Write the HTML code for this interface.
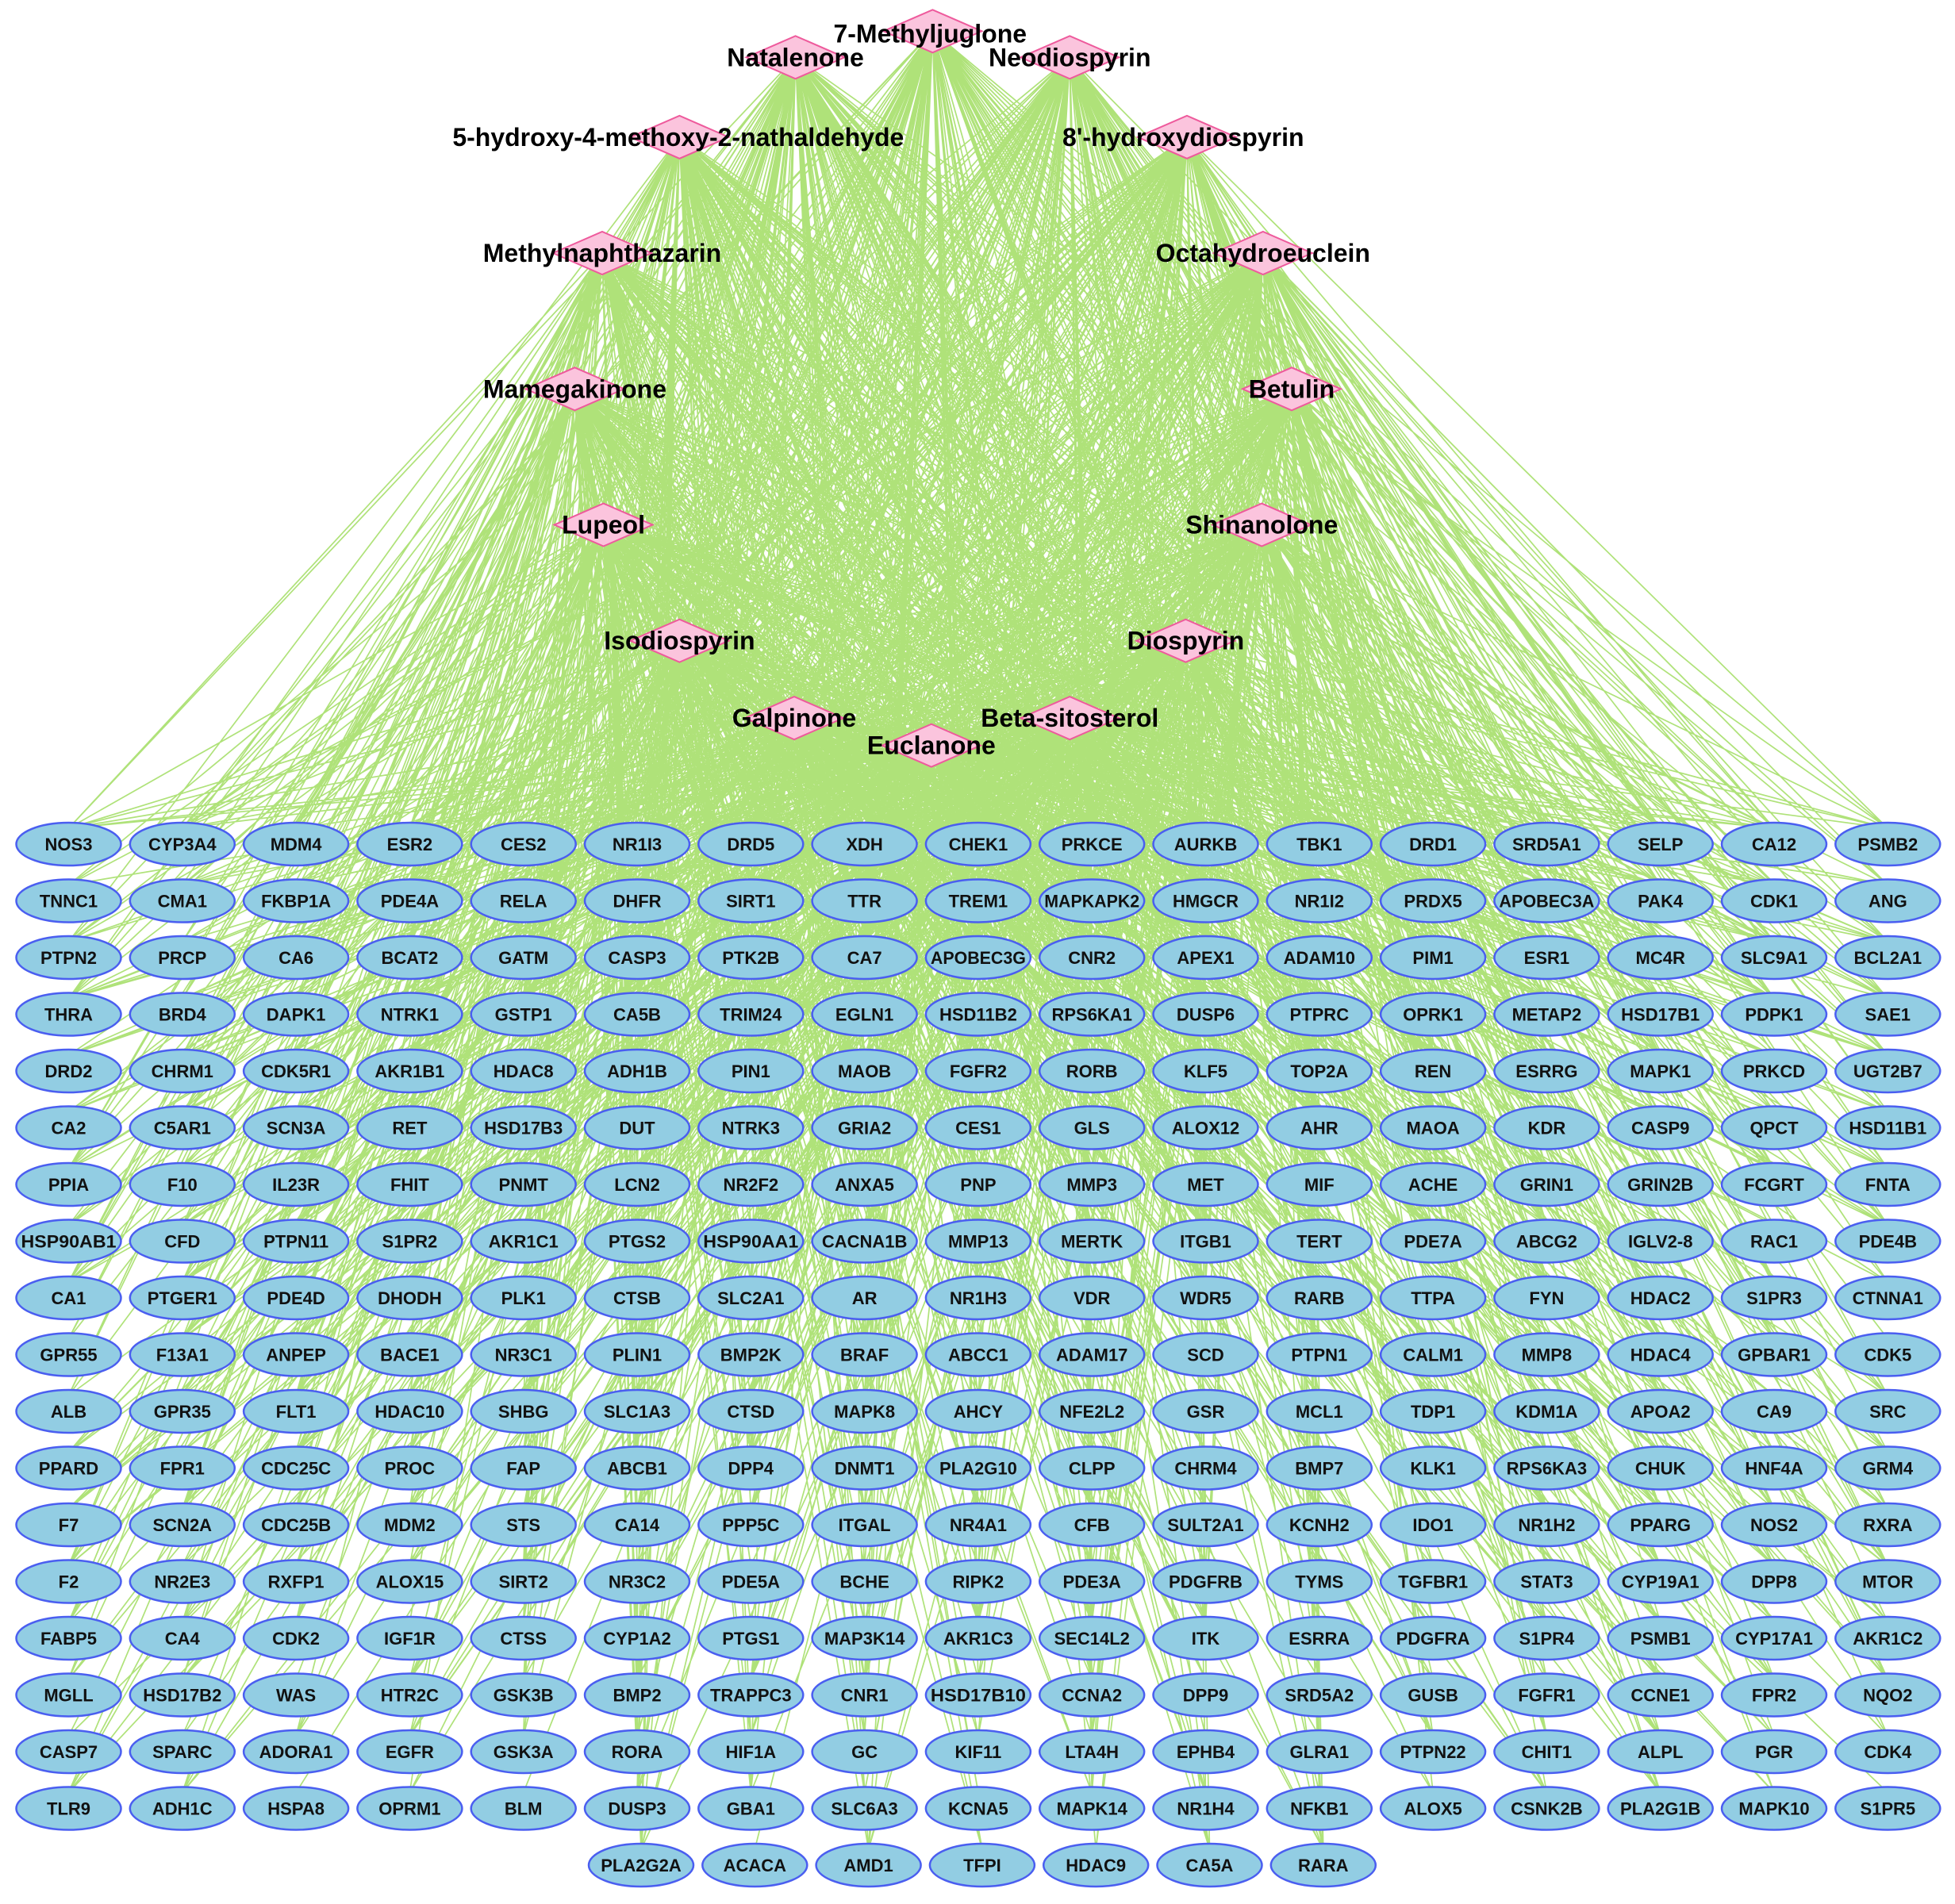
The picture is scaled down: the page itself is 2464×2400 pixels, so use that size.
<!DOCTYPE html>
<html><head><meta charset="utf-8"><style>
html,body{margin:0;padding:0;background:#fff}
svg{display:block}
</style></head><body>
<svg id="s" width="2464" height="2400" xmlns="http://www.w3.org/2000/svg">
<g id="edges" stroke="#9bdb58" stroke-width="1.7" stroke-opacity="0.8" fill="none"></g>
<g id="targets"></g>
<g id="comps"></g>
</svg>
<script>
var S=1.5714;
var comps=[
["7-Methyljuglone",748,25,746,27],["Natalenone",638,46,638,46],["Neodiospyrin",858,46,858,46],
["5-hydroxy-4-methoxy-2-nathaldehyde",545,110,544,110],["8'-hydroxydiospyrin",952,110,949,110],
["Methylnaphthazarin",483,203,483,203],["Octahydroeuclein",1013,203,1013,203],
["Mamegakinone",461,312,461,312],["Betulin",1036,312,1036,312],
["Lupeol",484,421,484,421],["Shinanolone",1012,421,1012,421],
["Isodiospyrin",545,514,545,514],["Diospyrin",951,514,951,514],
["Galpinone",637,576,637,576],["Beta-sitosterol",858,576,858,576],["Euclanone",747,598,747,598]];
var rows=[
"NOS3 CYP3A4 MDM4 ESR2 CES2 NR1I3 DRD5 XDH CHEK1 PRKCE AURKB TBK1 DRD1 SRD5A1 SELP CA12 PSMB2",
"TNNC1 CMA1 FKBP1A PDE4A RELA DHFR SIRT1 TTR TREM1 MAPKAPK2 HMGCR NR1I2 PRDX5 APOBEC3A PAK4 CDK1 ANG",
"PTPN2 PRCP CA6 BCAT2 GATM CASP3 PTK2B CA7 APOBEC3G CNR2 APEX1 ADAM10 PIM1 ESR1 MC4R SLC9A1 BCL2A1",
"THRA BRD4 DAPK1 NTRK1 GSTP1 CA5B TRIM24 EGLN1 HSD11B2 RPS6KA1 DUSP6 PTPRC OPRK1 METAP2 HSD17B1 PDPK1 SAE1",
"DRD2 CHRM1 CDK5R1 AKR1B1 HDAC8 ADH1B PIN1 MAOB FGFR2 RORB KLF5 TOP2A REN ESRRG MAPK1 PRKCD UGT2B7",
"CA2 C5AR1 SCN3A RET HSD17B3 DUT NTRK3 GRIA2 CES1 GLS ALOX12 AHR MAOA KDR CASP9 QPCT HSD11B1",
"PPIA F10 IL23R FHIT PNMT LCN2 NR2F2 ANXA5 PNP MMP3 MET MIF ACHE GRIN1 GRIN2B FCGRT FNTA",
"HSP90AB1 CFD PTPN11 S1PR2 AKR1C1 PTGS2 HSP90AA1 CACNA1B MMP13 MERTK ITGB1 TERT PDE7A ABCG2 IGLV2-8 RAC1 PDE4B",
"CA1 PTGER1 PDE4D DHODH PLK1 CTSB SLC2A1 AR NR1H3 VDR WDR5 RARB TTPA FYN HDAC2 S1PR3 CTNNA1",
"GPR55 F13A1 ANPEP BACE1 NR3C1 PLIN1 BMP2K BRAF ABCC1 ADAM17 SCD PTPN1 CALM1 MMP8 HDAC4 GPBAR1 CDK5",
"ALB GPR35 FLT1 HDAC10 SHBG SLC1A3 CTSD MAPK8 AHCY NFE2L2 GSR MCL1 TDP1 KDM1A APOA2 CA9 SRC",
"PPARD FPR1 CDC25C PROC FAP ABCB1 DPP4 DNMT1 PLA2G10 CLPP CHRM4 BMP7 KLK1 RPS6KA3 CHUK HNF4A GRM4",
"F7 SCN2A CDC25B MDM2 STS CA14 PPP5C ITGAL NR4A1 CFB SULT2A1 KCNH2 IDO1 NR1H2 PPARG NOS2 RXRA",
"F2 NR2E3 RXFP1 ALOX15 SIRT2 NR3C2 PDE5A BCHE RIPK2 PDE3A PDGFRB TYMS TGFBR1 STAT3 CYP19A1 DPP8 MTOR",
"FABP5 CA4 CDK2 IGF1R CTSS CYP1A2 PTGS1 MAP3K14 AKR1C3 SEC14L2 ITK ESRRA PDGFRA S1PR4 PSMB1 CYP17A1 AKR1C2",
"MGLL HSD17B2 WAS HTR2C GSK3B BMP2 TRAPPC3 CNR1 HSD17B10 CCNA2 DPP9 SRD5A2 GUSB FGFR1 CCNE1 FPR2 NQO2",
"CASP7 SPARC ADORA1 EGFR GSK3A RORA HIF1A GC KIF11 LTA4H EPHB4 GLRA1 PTPN22 CHIT1 ALPL PGR CDK4",
"TLR9 ADH1C HSPA8 OPRM1 BLM DUSP3 GBA1 SLC6A3 KCNA5 MAPK14 NR1H4 NFKB1 ALOX5 CSNK2B PLA2G1B MAPK10 S1PR5"];
var last="PLA2G2A ACACA AMD1 TFPI HDAC9 CA5A RARA".split(" ");
var NS="http://www.w3.org/2000/svg";
function el(t,a,p){var e=document.createElementNS(NS,t);for(var k in a)e.setAttribute(k,a[k]);p.appendChild(e);return e;}
var T=[];
rows.forEach(function(r,i){r.split(" ").forEach(function(n,j){T.push([n,86.5+j*143.3,1064+i*71.5,i]);});});
last.forEach(function(n,j){T.push([n,86.5+(j+5)*143.3+5,1064+18*71.5,18]);});
var seed=12345;function rnd(){seed=(seed*1103515245+12345)&0x7fffffff;return seed/0x7fffffff;}
var E=document.getElementById("edges"),d="";
comps.forEach(function(c){var cx=c[1]*S,cy=c[2]*S;
 T.forEach(function(t){ var p=0.5-t[3]*0.015; if(rnd()<p){d+="M"+cx.toFixed(1)+" "+cy.toFixed(1)+"L"+t[1].toFixed(1)+" "+(t[2]-20).toFixed(1);} });
});
el("path",{d:d},E);
var G=document.getElementById("targets");
T.forEach(function(t){
 el("ellipse",{cx:t[1],cy:t[2],rx:66,ry:27,fill:"#92cde3",stroke:"#4a5ef0","stroke-width":2.5},G);
 var tx=el("text",{x:t[1],y:t[2]+8,"text-anchor":"middle","font-family":"Liberation Sans, DejaVu Sans, sans-serif","font-weight":"bold","font-size":22,fill:"#111"},G);
 tx.textContent=t[0];
 if(t[0].length>7)tx.setAttribute("textLength",Math.min(120,t[0].length*15)),tx.setAttribute("lengthAdjust","spacingAndGlyphs");
});
var C=document.getElementById("comps");
comps.forEach(function(c){var x=c[1]*S,y=c[2]*S;
 el("polygon",{points:(x-62)+","+y+" "+x+","+(y-27)+" "+(x+62)+","+y+" "+x+","+(y+27),fill:"#fbc4dd",stroke:"#ee5a9c","stroke-width":2},C);
 var tx=el("text",{x:c[3]*S,y:c[4]*S+11,"text-anchor":"middle","font-family":"Liberation Sans, DejaVu Sans, sans-serif","font-weight":"bold","font-size":32,fill:"#000"},C);
 tx.textContent=c[0];
});
</script>
</body></html>
